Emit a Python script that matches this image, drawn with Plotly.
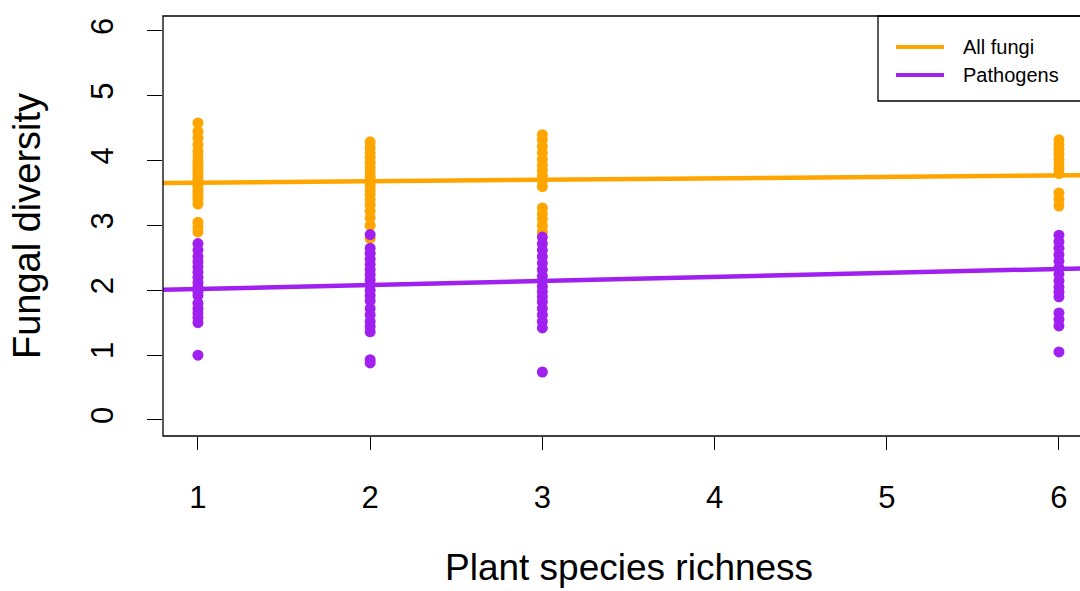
import plotly.graph_objects as go

# Data
richness_levels = [1, 2, 3, 6]

all_fungi = {
    1: [4.58, 4.45, 4.35, 4.25, 4.15, 4.08, 4.0, 3.95, 3.9, 3.85, 3.8, 3.75, 3.7, 3.65,
        3.6, 3.55, 3.5, 3.45, 3.4, 3.33, 3.05, 2.97, 2.9],
    2: [4.29, 4.2, 4.12, 4.05, 3.97, 3.9, 3.83, 3.76, 3.7, 3.62, 3.55, 3.48, 3.4, 3.32,
        3.22, 3.12, 3.0, 2.8],
    3: [4.4, 4.32, 4.22, 4.12, 4.02, 3.93, 3.85, 3.77, 3.68, 3.6, 3.27, 3.18, 3.1, 3.0, 2.9],
    6: [4.32, 4.25, 4.18, 4.1, 4.02, 3.95, 3.88, 3.8, 3.5, 3.4, 3.3],
}

pathogens = {
    1: [2.72, 2.62, 2.52, 2.44, 2.36, 2.28, 2.2, 2.12, 2.05, 1.98, 1.92, 1.8, 1.72, 1.65,
        1.58, 1.5, 1.0],
    2: [2.86, 2.65, 2.57, 2.48, 2.4, 2.32, 2.24, 2.16, 2.08, 2.0, 1.92, 1.84, 1.72, 1.62,
        1.52, 1.44, 1.36, 0.93, 0.88],
    3: [2.82, 2.72, 2.62, 2.52, 2.42, 2.32, 2.22, 2.14, 2.06, 1.98, 1.9, 1.82, 1.72,
        1.62, 1.52, 1.42, 0.74],
    6: [2.85, 2.75, 2.65, 2.55, 2.45, 2.35, 2.25, 2.15, 2.05, 1.97, 1.9, 1.65, 1.55,
        1.45, 1.05],
}

# Fitted lines (intercept, slope)
fit_all = (3.638, 0.022)
fit_path = (1.958, 0.062)

series_names = ["All fungi", "Pathogens"]
x_title = "Plant species richness"
y_title = "Fungal diversity"

x_ticks = [1, 2, 3, 4, 5, 6]
y_ticks = [0, 1, 2, 3, 4, 5, 6]

ORANGE = "#FFA500"
PURPLE = "#A020F0"
FONT = "Liberation Sans, Arial, sans-serif"

# plot-area geometry in pixels
L, T, B, W, H = 163, 16, 436, 1080, 591
PW, PH = W - L, B - T


def px_x(p):
    return (p - L) / PW


def px_y(p):
    return (B - p) / PH


fig = go.Figure()

for series, color in ((all_fungi, ORANGE), (pathogens, PURPLE)):
    xs, ys = [], []
    for k in richness_levels:
        xs += [k] * len(series[k])
        ys += series[k]
    fig.add_trace(go.Scatter(x=xs, y=ys, mode="markers", showlegend=False,
                             marker=dict(color=color, size=11, line=dict(width=0)),
                             hoverinfo="x+y"))

x_line = [0.7, 6.3]
for name, (a, b), color in zip(series_names, (fit_all, fit_path), (ORANGE, PURPLE)):
    fig.add_trace(go.Scatter(x=x_line, y=[a + b * v for v in x_line], mode="lines",
                             name=name, showlegend=False,
                             line=dict(color=color, width=4.5)))

# manual legend (R-style, top-right, cut by the frame)
shapes = [
    dict(type="rect", xref="paper", yref="paper", x0=px_x(878), x1=1.05,
         y0=px_y(101), y1=1, line=dict(color="black", width=1.3),
         fillcolor="white", layer="above"),
]
annotations = []
for i, (name, color) in enumerate(zip(series_names, (ORANGE, PURPLE))):
    yy = px_y(47 + 28 * i)
    shapes.append(dict(type="line", xref="paper", yref="paper", x0=px_x(896), x1=px_x(944),
                       y0=yy, y1=yy, line=dict(color=color, width=4), layer="above"))
    annotations.append(dict(xref="paper", yref="paper", x=px_x(961), y=yy, text=name,
                            showarrow=False, xanchor="left", yanchor="middle",
                            font=dict(size=20, family=FONT, color="black")))

# x-axis title centred on the full (partly cropped) plot frame
annotations.append(dict(xref="paper", yref="paper", x=px_x(629), y=px_y(H - 1), text=x_title,
                        showarrow=False, xanchor="center", yanchor="bottom",
                        font=dict(size=37, family=FONT, color="black")))

shapes.append(dict(type="rect", xref="paper", yref="paper", x0=0, x1=1.05, y0=0, y1=1,
                   line=dict(color="black", width=1.3), layer="above"))

x_range = [0.797, 0.797 + PW / 172.2]
y_range = [-0.247, 6.23]

fig.update_layout(
    width=W, height=H,
    margin=dict(l=L, r=0, t=T, b=H - B),
    plot_bgcolor="white", paper_bgcolor="white",
    font=dict(family=FONT, color="black"),
    xaxis=dict(range=x_range, tickvals=x_ticks, ticks="outside", ticklen=13,
               tickwidth=1, tickcolor="black", showgrid=False, zeroline=False,
               showline=False, tickfont=dict(size=31), ticklabelstandoff=21),
    yaxis=dict(range=y_range, tickvals=y_ticks, ticks="outside", ticklen=15,
               tickwidth=1, tickcolor="black", showgrid=False, zeroline=False,
               showline=False, tickfont=dict(size=31), tickangle=-90, ticklabelstandoff=22,
               title=dict(text=y_title, font=dict(size=38), standoff=32)),
    showlegend=False,
    shapes=shapes,
    annotations=annotations,
)

fig.write_html("out.html")
